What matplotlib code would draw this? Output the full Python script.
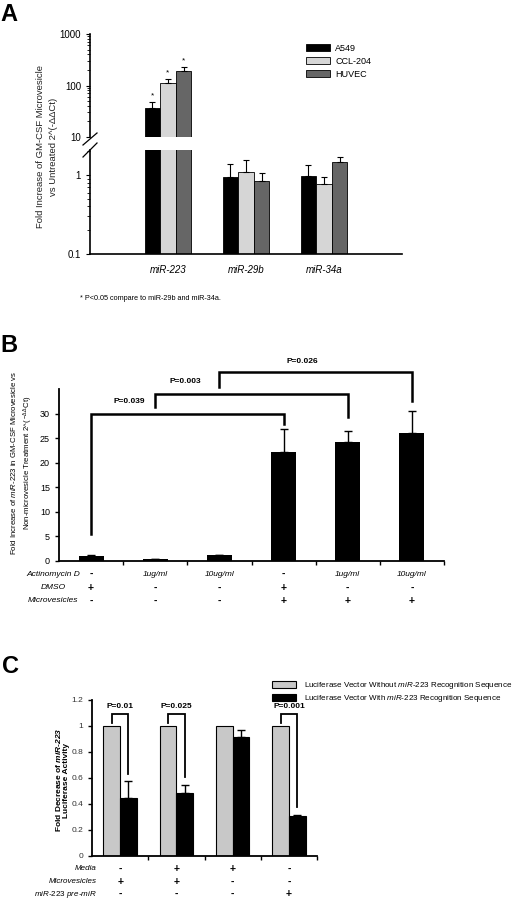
import matplotlib
matplotlib.use("Agg")
import matplotlib.pyplot as plt
import numpy as np
from matplotlib.lines import Line2D
from matplotlib.ticker import NullFormatter
from matplotlib.transforms import blended_transform_factory

plt.rcParams["font.family"] = ["Liberation Sans", "DejaVu Sans"]
plt.rcParams["mathtext.fontset"] = "custom"
plt.rcParams["mathtext.rm"] = "Liberation Sans"
plt.rcParams["mathtext.it"] = "Liberation Sans:italic"
plt.rcParams["mathtext.bf"] = "Liberation Sans:bold"
plt.rcParams["mathtext.bfit"] = "Liberation Sans:italic:bold"

# ---- panel A data
mirs = ["miR-223", "miR-29b", "miR-34a"]
cell_lines = ["A549", "CCL-204", "HUVEC"]
a549 = [36, 0.94, 0.97]
a549_err = [12, 0.44, 0.37]
ccl204 = [112, 1.09, 0.77]
ccl204_err = [22, 0.46, 0.17]
huvec = [191, 0.84, 1.46]
huvec_err = [39, 0.22, 0.23]

# ---- panel B data
b_fold = [1.0, 0.4, 1.2, 22.2, 24.3, 26.0]
b_err = [0.12, 0.05, 0.12, 4.6, 2.2, 4.6]
b_actino = ["-", "1ug/ml", "10ug/ml", "-", "1ug/ml", "10ug/ml"]
b_dmso = ["+", "-", "-", "+", "-", "-"]
b_micro = ["-", "-", "-", "+", "+", "+"]
# (left bar, right bar, top, left leg end, right leg end, label, label x, label y)
b_brackets = [(0, 3, 30.0, 5.5, 27.8, "P=0.039", 0.60, 31.7),
              (1, 4, 34.0, 31.4, 29.4, "P=0.003", 1.47, 35.9),
              (2, 5, 38.4, 35.5, 32.6, "P=0.026", 3.29, 39.8)]

# ---- panel C data
c_without = [1.0, 1.0, 1.0, 1.0]
c_with = [0.45, 0.485, 0.915, 0.31]
c_with_err = [0.125, 0.065, 0.055, 0.004]
c_media = ["-", "+", "+", "-"]
c_micro = ["+", "+", "-", "-"]
c_premir = ["-", "-", "-", "+"]
# (group, top, left leg end, right leg end, label)
c_brackets = [(0, 1.09, 1.02, 0.63, "P=0.01"),
              (1, 1.09, 1.02, 0.61, "P=0.025"),
              (3, 1.09, 1.02, 0.38, "P=0.001")]

W, H = 520, 901
fig = plt.figure(figsize=(W / 100, H / 100), dpi=100)


def px_axes(x0, y0, x1, y1):
    return fig.add_axes([x0 / W, 1 - y1 / H, (x1 - x0) / W, (y1 - y0) / H])


def ftext(x, y, s, **kw):
    return fig.text(x / W, 1 - y / H, s, **kw)


def fline(xs, ys, **kw):
    fig.add_artist(Line2D([x / W for x in xs], [1 - y / H for y in ys],
                          transform=fig.transFigure, **kw))


# ================= Panel A =================
ftext(0, 3, "A", fontsize=17, fontweight="bold", va="top")

ax_top = px_axes(90, 34, 402, 137)
ax_bot = px_axes(90, 150, 402, 254)
xa = np.arange(len(mirs))
bw = 0.2
cols = ["black", "#d6d6d6", "#666666"]
series = [(a549, a549_err), (ccl204, ccl204_err), (huvec, huvec_err)]
handles = []
for ax in (ax_top, ax_bot):
    for k, (vals, errs) in enumerate(series):
        xs = xa + (k - 1) * bw
        h = ax.bar(xs, np.array(vals) - 0.001, bottom=0.001, width=bw,
                   color=cols[k], edgecolor="black", linewidth=0.6,
                   label=cell_lines[k])
        ax.errorbar(xs, vals, yerr=[np.zeros(len(vals)), errs], fmt="none",
                    ecolor="black", elinewidth=0.8, capsize=2.5, capthick=0.8)
        if ax is ax_top:
            handles.append(h)
    ax.set_yscale("log")
    ax.set_xlim(-1.0, 3.0)
    for s in ("top", "right"):
        ax.spines[s].set_visible(False)
    ax.spines["left"].set_linewidth(1.2)
    ax.tick_params(axis="y", labelsize=7, length=3, width=0.8)
    ax.yaxis.set_minor_formatter(NullFormatter())

ax_top.set_ylim(10, 1000)
ax_top.set_yticks([10, 100, 1000], ["10", "100", "1000"])
ax_top.spines["bottom"].set_visible(False)
ax_top.set_xticks([])
ax_bot.set_ylim(0.1, 2.07)
ax_bot.set_yticks([0.1, 1], ["0.1", "1"])
ax_bot.spines["bottom"].set_linewidth(1.2)
ax_bot.set_xticks(xa, mirs, fontstyle="italic", fontsize=7)
ax_bot.tick_params(axis="x", length=0, pad=8)

for k, (vals, errs) in enumerate(series):
    ax_top.text(xa[0] + (k - 1) * bw, (vals[0] + errs[0]) * 1.12, "*",
                ha="center", va="bottom", fontsize=6)

fline([83, 97], [145, 133], color="black", lw=0.9)
fline([83, 97], [157, 143], color="black", lw=0.9)

ax_top.legend(handles=handles, loc="upper left",
              bbox_to_anchor=(301 / W, 1 - 39 / H),
              bbox_transform=fig.transFigure, frameon=False, fontsize=6.5,
              handlelength=2.7, handleheight=0.7, labelspacing=0.45,
              handletextpad=0.6, borderpad=0)

ftext(47, 147, "Fold Increase of GM-CSF Microvesicle\nvs Untreated 2^(-ΔΔCt)",
      rotation=90, ha="center", va="center", fontsize=6.8, linespacing=1.5,
      color="#222222")
ftext(80, 298, "* P<0.05 compare to miR-29b and miR-34a.", fontsize=5.2,
      va="center")

# ================= Panel B =================
ftext(0, 334, "B", fontsize=17, fontweight="bold", va="top")
axb = px_axes(59, 389, 444, 561)
xb = np.arange(len(b_fold))
axb.bar(xb, b_fold, width=0.39, color="black")
axb.errorbar(xb, b_fold, yerr=[np.zeros(len(b_err)), b_err], fmt="none",
             ecolor="black", elinewidth=1.0, capsize=3, capthick=1.0)
axb.set_xlim(-0.5, 5.5)
axb.set_ylim(0, 35)
axb.set_yticks(np.arange(0, 31, 5))
axb.set_xticks(np.arange(0.5, 6, 1.0))
axb.set_xticklabels([])
for s in ("top", "right"):
    axb.spines[s].set_visible(False)
axb.spines["left"].set_linewidth(1.3)
axb.spines["bottom"].set_linewidth(1.3)
axb.tick_params(axis="y", labelsize=6.5, length=3, width=1.0)
axb.tick_params(axis="x", length=3, width=1.0)

for l, r, top, lend, rend, lab, tx, ty in b_brackets:
    axb.plot([l, l, r, r], [lend, top, top, rend], color="black", lw=1.8,
             clip_on=False, solid_joinstyle="miter")
    axb.text(tx, ty, lab, ha="center", va="bottom", fontsize=6,
             fontweight="bold")

tb = blended_transform_factory(axb.transData, fig.transFigure)
for row, (lab, vals) in enumerate([("Actinomycin D", b_actino),
                                   ("DMSO", b_dmso),
                                   ("Microvesicles", b_micro)]):
    y = 1 - (574 + row * 13.5) / H
    ftext(53, 574 + row * 13.5, lab, ha="center", va="center", fontsize=6,
          fontstyle="italic")
    for i, v in enumerate(vals):
        axb.text(xb[i], y, v, transform=tb, ha="center", va="center",
                 fontsize=6 if len(v) > 1 else 7.5,
                 fontstyle="italic" if len(v) > 1 else "normal",
                 fontweight="normal" if len(v) > 1 else "bold")

ftext(22, 463,
      "Fold Increase of $\\mathit{miR}$-$\\mathit{223}$ in GM-CSF Microvesicle vs\n"
      "Non-microvesicle Treatment 2^( $^{-\\Delta\\Delta}$Ct)",
      rotation=90, ha="center", va="center", fontsize=5.6, linespacing=1.5)

# ================= Panel C =================
ftext(2, 655, "C", fontsize=17, fontweight="bold", va="top")
axc = px_axes(92, 700, 317, 856)
xc = np.arange(len(c_with))
bwc = 0.297
hg = axc.bar(xc - bwc / 2, c_without, width=bwc, color="#c8c8c8",
             edgecolor="black", linewidth=0.8,
             label="Luciferase Vector Without $\\mathit{miR}$-$\\mathit{223}$ Recognition Sequence")
hk = axc.bar(xc + bwc / 2, c_with, width=bwc, color="black",
             edgecolor="black", linewidth=0.8,
             label="Luciferase Vector With $\\mathit{miR}$-$\\mathit{223}$ Recognition Sequence")
axc.errorbar(xc + bwc / 2, c_with, yerr=[np.zeros(len(c_with)), c_with_err],
             fmt="none", ecolor="black", elinewidth=1.0, capsize=3,
             capthick=1.0)
axc.set_xlim(-0.5, 3.5)
axc.set_ylim(0, 1.2)
axc.set_yticks([0, 0.2, 0.4, 0.6, 0.8, 1.0, 1.2],
               ["0", "0.2", "0.4", "0.6", "0.8", "1", "1.2"])
axc.set_xticks([0.5, 1.5, 2.5, 3.5])
axc.set_xticklabels([])
for s in ("top", "right"):
    axc.spines[s].set_visible(False)
axc.spines["left"].set_linewidth(1.3)
axc.spines["bottom"].set_linewidth(1.3)
axc.tick_params(axis="y", labelsize=6, length=3, width=1.0, labelcolor="#333333")
axc.tick_params(axis="x", length=3, width=1.0)

for g, top, lend, rend, lab in c_brackets:
    l, r = g - bwc / 2, g + bwc / 2
    axc.plot([l, l, r, r], [lend, top, top, rend], color="black", lw=1.3,
             clip_on=False, solid_joinstyle="miter")
    axc.text(g, top + 0.03, lab, ha="center", va="bottom", fontsize=6,
             fontweight="bold")

axc.legend(handles=[hg, hk], loc="upper left",
           bbox_to_anchor=(268 / W, 1 - 676 / H),
           bbox_transform=fig.transFigure, frameon=False, fontsize=5.8,
           handlelength=3.0, handleheight=0.9, labelspacing=0.25,
           handletextpad=1.0, borderpad=0)

tc = blended_transform_factory(axc.transData, fig.transFigure)
for row, (lab, vals) in enumerate([("Media", c_media),
                                   ("Microvesicles", c_micro),
                                   ("$\\mathit{miR}$-$\\mathit{223}$ pre-miR", c_premir)]):
    yp = 869 + row * 12.5
    ftext(97, yp, lab, ha="right", va="center", fontsize=5.8,
          fontstyle="italic")
    for i, v in enumerate(vals):
        axc.text(xc[i], 1 - yp / H, v, transform=tc, ha="center",
                 va="center", fontsize=7.5, fontweight="bold")

ftext(62, 780,
      "Fold Decrease of $\\mathbfit{miR}$-$\\mathbfit{223}$\nLuciferase Activity",
      rotation=90, ha="center", va="center", fontsize=6.0, fontweight="bold",
      linespacing=1.15)

fig.savefig("out.png", dpi=100)
